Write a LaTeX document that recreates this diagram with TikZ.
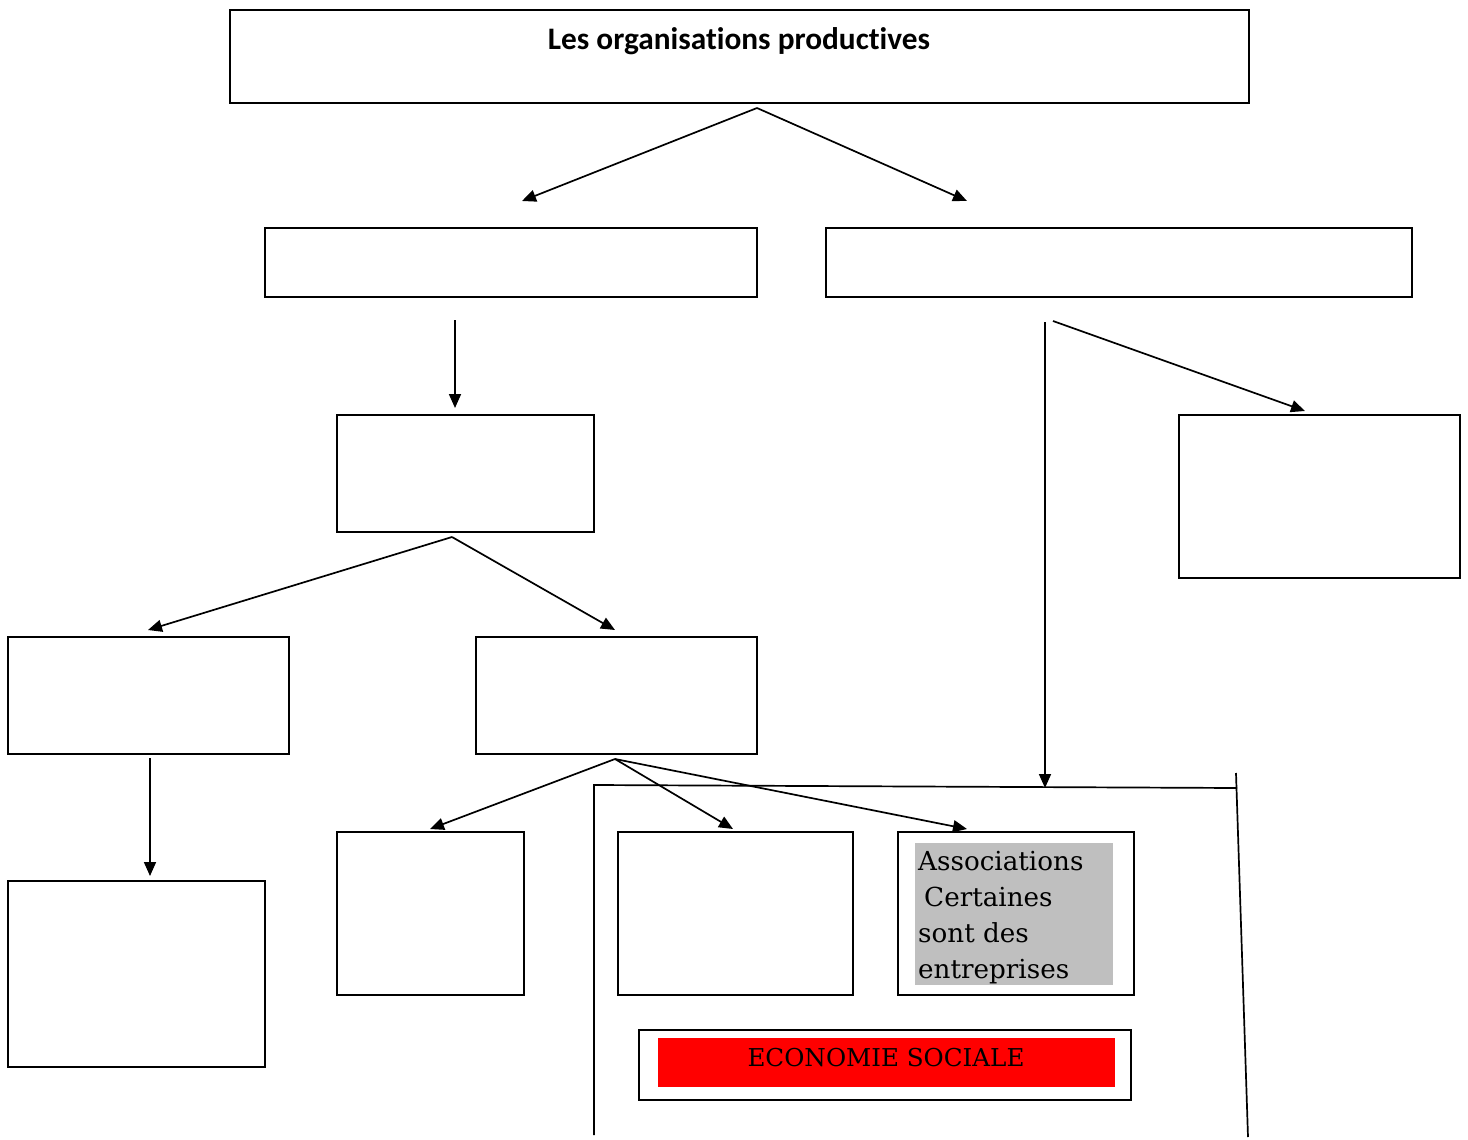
\documentclass[tikz,border=0pt]{standalone}
\usepackage{fontspec}
\setmainfont{DejaVu Serif}
\newfontfamily\titlefont[Ligatures=NoCommon]{Carlito}
\usetikzlibrary{arrows.meta}
\tikzset{
  box/.style={draw=black, line width=1.8pt, inner sep=0pt, fill=white},
  arr/.style={line width=1.7pt, -{Triangle[length=14pt,width=12pt]}},
  ln/.style={line width=1.7pt},
}
\begin{document}
\begin{tikzpicture}[x=1pt,y=-1pt]
\useasboundingbox (0,0) rectangle (1468,1140);
% boxes
\node[box, minimum width=1019pt, minimum height=93pt] (top) at (739.5,56.5) {};
\node[font=\titlefont\bfseries\fontsize{31.3}{36}\selectfont] (title) at (739,41) {Les organisations productives};
\node[box, minimum width=492pt, minimum height=69pt] (A) at (511,262.5) {};
\node[box, minimum width=586pt, minimum height=69pt] (B) at (1119,262.5) {};
\node[box, minimum width=257pt, minimum height=117pt] (C) at (465.5,473.5) {};
\node[box, minimum width=281pt, minimum height=163pt] (D) at (1319.5,496.5) {};
\node[box, minimum width=281pt, minimum height=117pt] (E) at (148.5,695.5) {};
\node[box, minimum width=281pt, minimum height=117pt] (F) at (616.5,695.5) {};
\node[box, minimum width=257pt, minimum height=186pt] (G) at (136.5,974) {};
\node[box, minimum width=187pt, minimum height=163pt] (H) at (430.5,913.5) {};
\node[box, minimum width=235pt, minimum height=163pt] (I) at (735.5,913.5) {};
\node[box, minimum width=236pt, minimum height=163pt] (J) at (1016,913.5) {};
\fill[gray!50] (915,843) rectangle (1113,985);
\node[anchor=north west, align=left, inner sep=0pt, font=\fontsize{26.2}{36}\selectfont] (assoc) at (918,851)
  {Associations\\\hspace{6pt}Certaines\\sont des\\entreprises};
\node[box, minimum width=492pt, minimum height=70pt] (K) at (885,1065) {};
\fill[red] (658,1038) rectangle (1115,1087);
\node[font=\fontsize{24.6}{30}\selectfont] (eco) at (886,1058) {ECONOMIE SOCIALE};
% frame
\coordinate (f1) at (594,1135);
\coordinate (f2) at (594,785);
\coordinate (f3) at (1237,788);
\coordinate (f4) at (1236,773);
\coordinate (f5) at (1248,1137);
\draw[ln] (f1) -- (f2) -- (f3);
\draw[ln] (f4) -- (f5);
% connectors
\coordinate (s0) at (757,108);
\coordinate (tA) at (522,201);
\coordinate (tB) at (967,201);
\draw[arr] (s0) -- (tA);
\draw[arr] (s0) -- (tB);
\coordinate (sA) at (455,320);
\coordinate (tC) at (455,408);
\draw[arr] (sA) -- (tC);
\coordinate (sB1) at (1045,322);
\coordinate (tF) at (1045,788);
\draw[arr] (sB1) -- (tF);
\coordinate (sB2) at (1053,321);
\coordinate (tD) at (1305,411);
\draw[arr] (sB2) -- (tD);
\coordinate (sC) at (452,537);
\coordinate (tE) at (148,630);
\coordinate (tF2) at (615,630);
\draw[arr] (sC) -- (tE);
\draw[arr] (sC) -- (tF2);
\coordinate (sE) at (150,758);
\coordinate (tG) at (150,876);
\draw[arr] (sE) -- (tG);
\coordinate (sF) at (615,759);
\coordinate (tH) at (430,829);
\coordinate (tI) at (733,829);
\coordinate (tJ) at (967,829);
\draw[arr] (sF) -- (tH);
\draw[arr] (sF) -- (tI);
\draw[arr] (sF) -- (tJ);
\end{tikzpicture}
\end{document}
